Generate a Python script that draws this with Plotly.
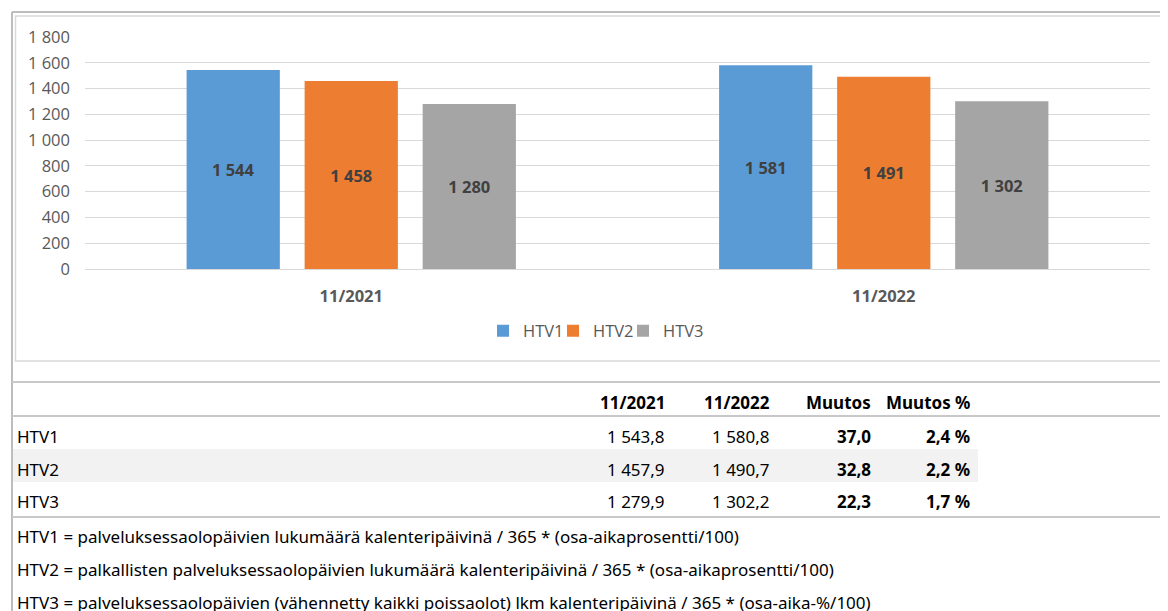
import plotly.graph_objects as go

# --- data ---
periods = ["11/2021", "11/2022"]
series = ["HTV1", "HTV2", "HTV3"]
htv_2021 = [1543.8, 1457.9, 1279.9]
htv_2022 = [1580.8, 1490.7, 1302.2]
change = [37.0, 32.8, 22.3]
change_pct = [2.4, 2.2, 1.7]
table_header = ["11/2021", "11/2022", "Muutos", "Muutos %"]
notes = [
    "HTV1 = palveluksessaolopäivien lukumäärä kalenteripäivinä / 365 * (osa-aikaprosentti/100)",
    "HTV2 = palkallisten palveluksessaolopäivien lukumäärä kalenteripäivinä / 365 * (osa-aikaprosentti/100)",
    "HTV3 = palveluksessaolopäivien (vähennetty kaikki poissaolot) lkm kalenteripäivinä / 365 * (osa-aika-%/100)",
]
colors = ["#5B9BD5", "#ED7D31", "#A5A5A5"]

W, H = 1168, 611
OFF = 8  # page body margin
FONT = "Open Sans"
TFONT = "Noto Sans"
CSIZE = 16.5
TSIZE = 17


def px(x):
    return (x - OFF) / W


def py(y):
    return 1 - (y - OFF) / H


def fi(v, dec=1):
    s = f"{v:,.{dec}f}"
    return s.replace(",", " ").replace(".", ",")


fig = go.Figure()
for i, name in enumerate(series):
    fig.add_trace(go.Bar(
        name=name, x=periods, y=[htv_2021[i], htv_2022[i]],
        marker=dict(color=colors[i], line=dict(width=0)),
        texttemplate="<b>%{y:,.0f}</b>", textposition="inside",
        insidetextanchor="middle",
        textfont=dict(family=FONT, size=CSIZE, color="#404040"),
        legendwidth=25 if i < len(series) - 1 else 50,
        hoverinfo="skip",
    ))

shapes = []
line_c = "#C8C8C8"
# chart frame
shapes.append(dict(type="line", xref="paper", yref="paper", x0=px(12), x1=1.02, y0=py(12), y1=py(12),
                   line=dict(color="#BDBDBD", width=2)))
shapes.append(dict(type="line", xref="paper", yref="paper", x0=px(12), x1=px(12), y0=py(12), y1=-0.02,
                   line=dict(color="#BDBDBD", width=2)))
shapes.append(dict(type="rect", xref="paper", yref="paper", x0=px(15.5), x1=1.02, y0=py(361), y1=py(16),
                   line=dict(color="#D9D9D9", width=1.5)))
# table
shapes.append(dict(type="rect", xref="paper", yref="paper", x0=px(13), x1=px(978), y0=py(482), y1=py(449),
                   fillcolor="#F2F2F2", line=dict(width=0), layer="below"))
for yy in [382, 416, 517]:
    shapes.append(dict(type="line", xref="paper", yref="paper", x0=px(12), x1=1.02, y0=py(yy), y1=py(yy),
                       line=dict(color=line_c, width=2)))

ann = []
col_right = [667, 772, 873, 972]
for j, h in enumerate(table_header):
    ann.append(dict(x=px(col_right[j]), y=py(402), text=f"<b>{h}</b>", xanchor="right"))
row_y = [436, 469, 502]
for i, name in enumerate(series):
    ann.append(dict(x=px(15), y=py(row_y[i]), text=name, xanchor="left"))
    vals = [fi(htv_2021[i]), fi(htv_2022[i]), f"<b>{fi(change[i])}</b>", f"<b>{fi(change_pct[i])} %</b>"]
    for j, v in enumerate(vals):
        ann.append(dict(x=px(col_right[j]), y=py(row_y[i]), text=v, xanchor="right"))
note_y = [536, 569, 602]
for k, n in enumerate(notes):
    ann.append(dict(x=px(15), y=py(note_y[k]), text=n, xanchor="left"))
for a in ann:
    a.update(xref="paper", yref="paper", yanchor="middle", showarrow=False,
             font=dict(family=TFONT, size=TSIZE, color="#000000"))

fig.update_layout(
    width=W, height=H, margin=dict(l=0, r=0, t=0, b=0, autoexpand=False),
    paper_bgcolor="white", plot_bgcolor="white",
    separators=", ",
    barmode="group", bargap=0.335, bargroupgap=0.21,
    font=dict(family=FONT, size=CSIZE, color="#595959"),
    showlegend=True,
    legend=dict(orientation="h", x=px(483), xanchor="left", y=py(331), yanchor="middle",
                font=dict(family=FONT, size=CSIZE, color="#595959"), bgcolor="rgba(0,0,0,0)",
                itemwidth=30, entrywidthmode="pixels"),
    shapes=shapes, annotations=ann,
    xaxis=dict(domain=[px(85), px(1150)], showgrid=False, showline=True, linecolor="#D9D9D9",
               linewidth=1, ticks="", ticklabelstandoff=12, automargin=False,
               tickfont=dict(family=FONT, size=CSIZE, color="#595959", weight="bold")),
    yaxis=dict(domain=[py(269), py(37)], range=[0, 1800], dtick=200, tickformat=",",
               showgrid=True, gridcolor="#D9D9D9", gridwidth=1, zeroline=False, ticks="",
               ticklabelstandoff=14, automargin=False,
               tickfont=dict(family=FONT, size=CSIZE, color="#595959")),
)

fig.write_html("out.html")
